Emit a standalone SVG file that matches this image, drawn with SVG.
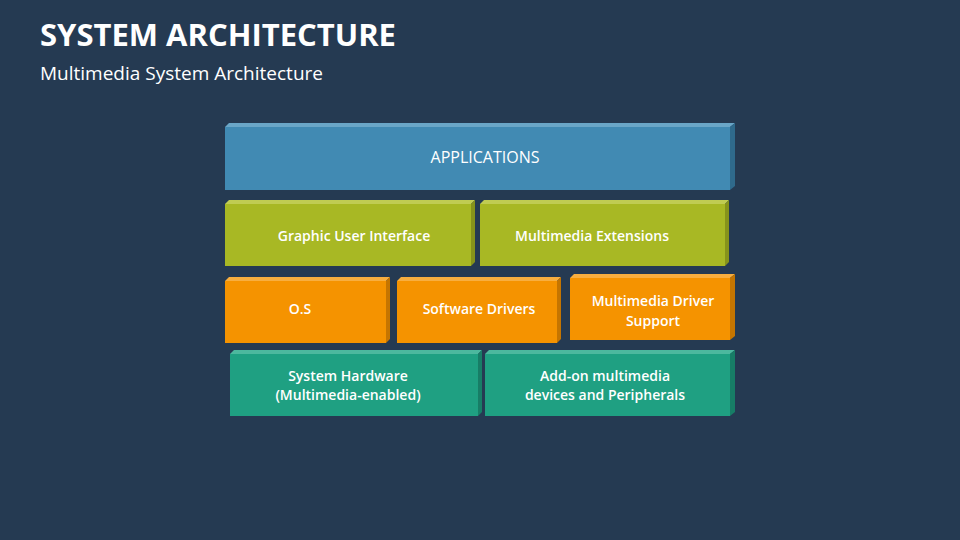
<svg xmlns="http://www.w3.org/2000/svg" width="960" height="540" viewBox="0 0 960 540">
<style>
text{font-family:"Open Sans","Noto Sans","Liberation Sans",sans-serif;fill:#fff;text-anchor:middle}
.t{font-size:14px;font-weight:600}
.b .f{fill:#418ab3}.b .top{fill:#6aa6c7}.b .s{fill:#2f6a8c}
.g .f{fill:#a8b824}.g .top{fill:#c0cc52}.g .s{fill:#86931b}
.o .f{fill:#f59300}.o .top{fill:#f8ae3f}.o .s{fill:#c57500}
.e .f{fill:#1fa082}.e .top{fill:#4cb89e}.e .s{fill:#177d66}
</style>
<rect width="960" height="540" fill="#253a52"/>
<text x="40" y="46" style="font-size:31px;font-weight:700;text-anchor:start">SYSTEM ARCHITECTURE</text>
<text x="40" y="80" style="font-size:19px;text-anchor:start">Multimedia System Architecture</text>
<g id="applications" class="b">
<polygon class="top" points="225,127 229,123 735,123 730,127"/><polygon class="s" points="730,127 735,123 735,186 730,190"/><rect class="f" x="225" y="127" width="505" height="63"/>
<text x="485" y="163" style="font-size:16px">APPLICATIONS</text></g>
<g id="gui" class="g">
<polygon class="top" points="225,204 229,200 475,200 471,204"/><polygon class="s" points="471,204 475,200 475,262 471,266"/><rect class="f" x="225" y="204" width="246" height="62"/>
<text class="t" x="354" y="241">Graphic User Interface</text></g>
<g id="mmext" class="g">
<polygon class="top" points="480,204 484,200 729,200 725,204"/><polygon class="s" points="725,204 729,200 729,262 725,266"/><rect class="f" x="480" y="204" width="245" height="62"/>
<text class="t" x="592" y="241">Multimedia Extensions</text></g>
<g id="os" class="o">
<polygon class="top" points="225,281 229,277 390,277 386,281"/><polygon class="s" points="386,281 390,277 390,339 386,343"/><rect class="f" x="225" y="281" width="161" height="62"/>
<text class="t" x="300" y="314">O.S</text></g>
<g id="drivers" class="o">
<polygon class="top" points="397,281 401,277 561,277 557,281"/><polygon class="s" points="557,281 561,277 561,339 557,343"/><rect class="f" x="397" y="281" width="160" height="62"/>
<text class="t" x="479" y="314">Software Drivers</text></g>
<g id="mds" class="o">
<polygon class="top" points="570,278 574,274 735,274 730,278"/><polygon class="s" points="730,278 735,274 735,336 730,340"/><rect class="f" x="570" y="278" width="160" height="62"/>
<text class="t" x="653" y="306">Multimedia Driver</text><text class="t" x="653" y="326">Support</text></g>
<g id="hardware" class="e">
<polygon class="top" points="230,354 234,350 482,350 478,354"/><polygon class="s" points="478,354 482,350 482,412 478,416"/><rect class="f" x="230" y="354" width="248" height="62"/>
<text class="t" x="348" y="381">System Hardware</text><text class="t" x="348" y="400">(Multimedia-enabled)</text></g>
<g id="addon" class="e">
<polygon class="top" points="485,354 489,350 735,350 730,354"/><polygon class="s" points="730,354 735,350 735,412 730,416"/><rect class="f" x="485" y="354" width="245" height="62"/>
<text class="t" x="605" y="381">Add-on multimedia</text><text class="t" x="605" y="400">devices and Peripherals</text></g>
<g id="connectors"/>
</svg>
